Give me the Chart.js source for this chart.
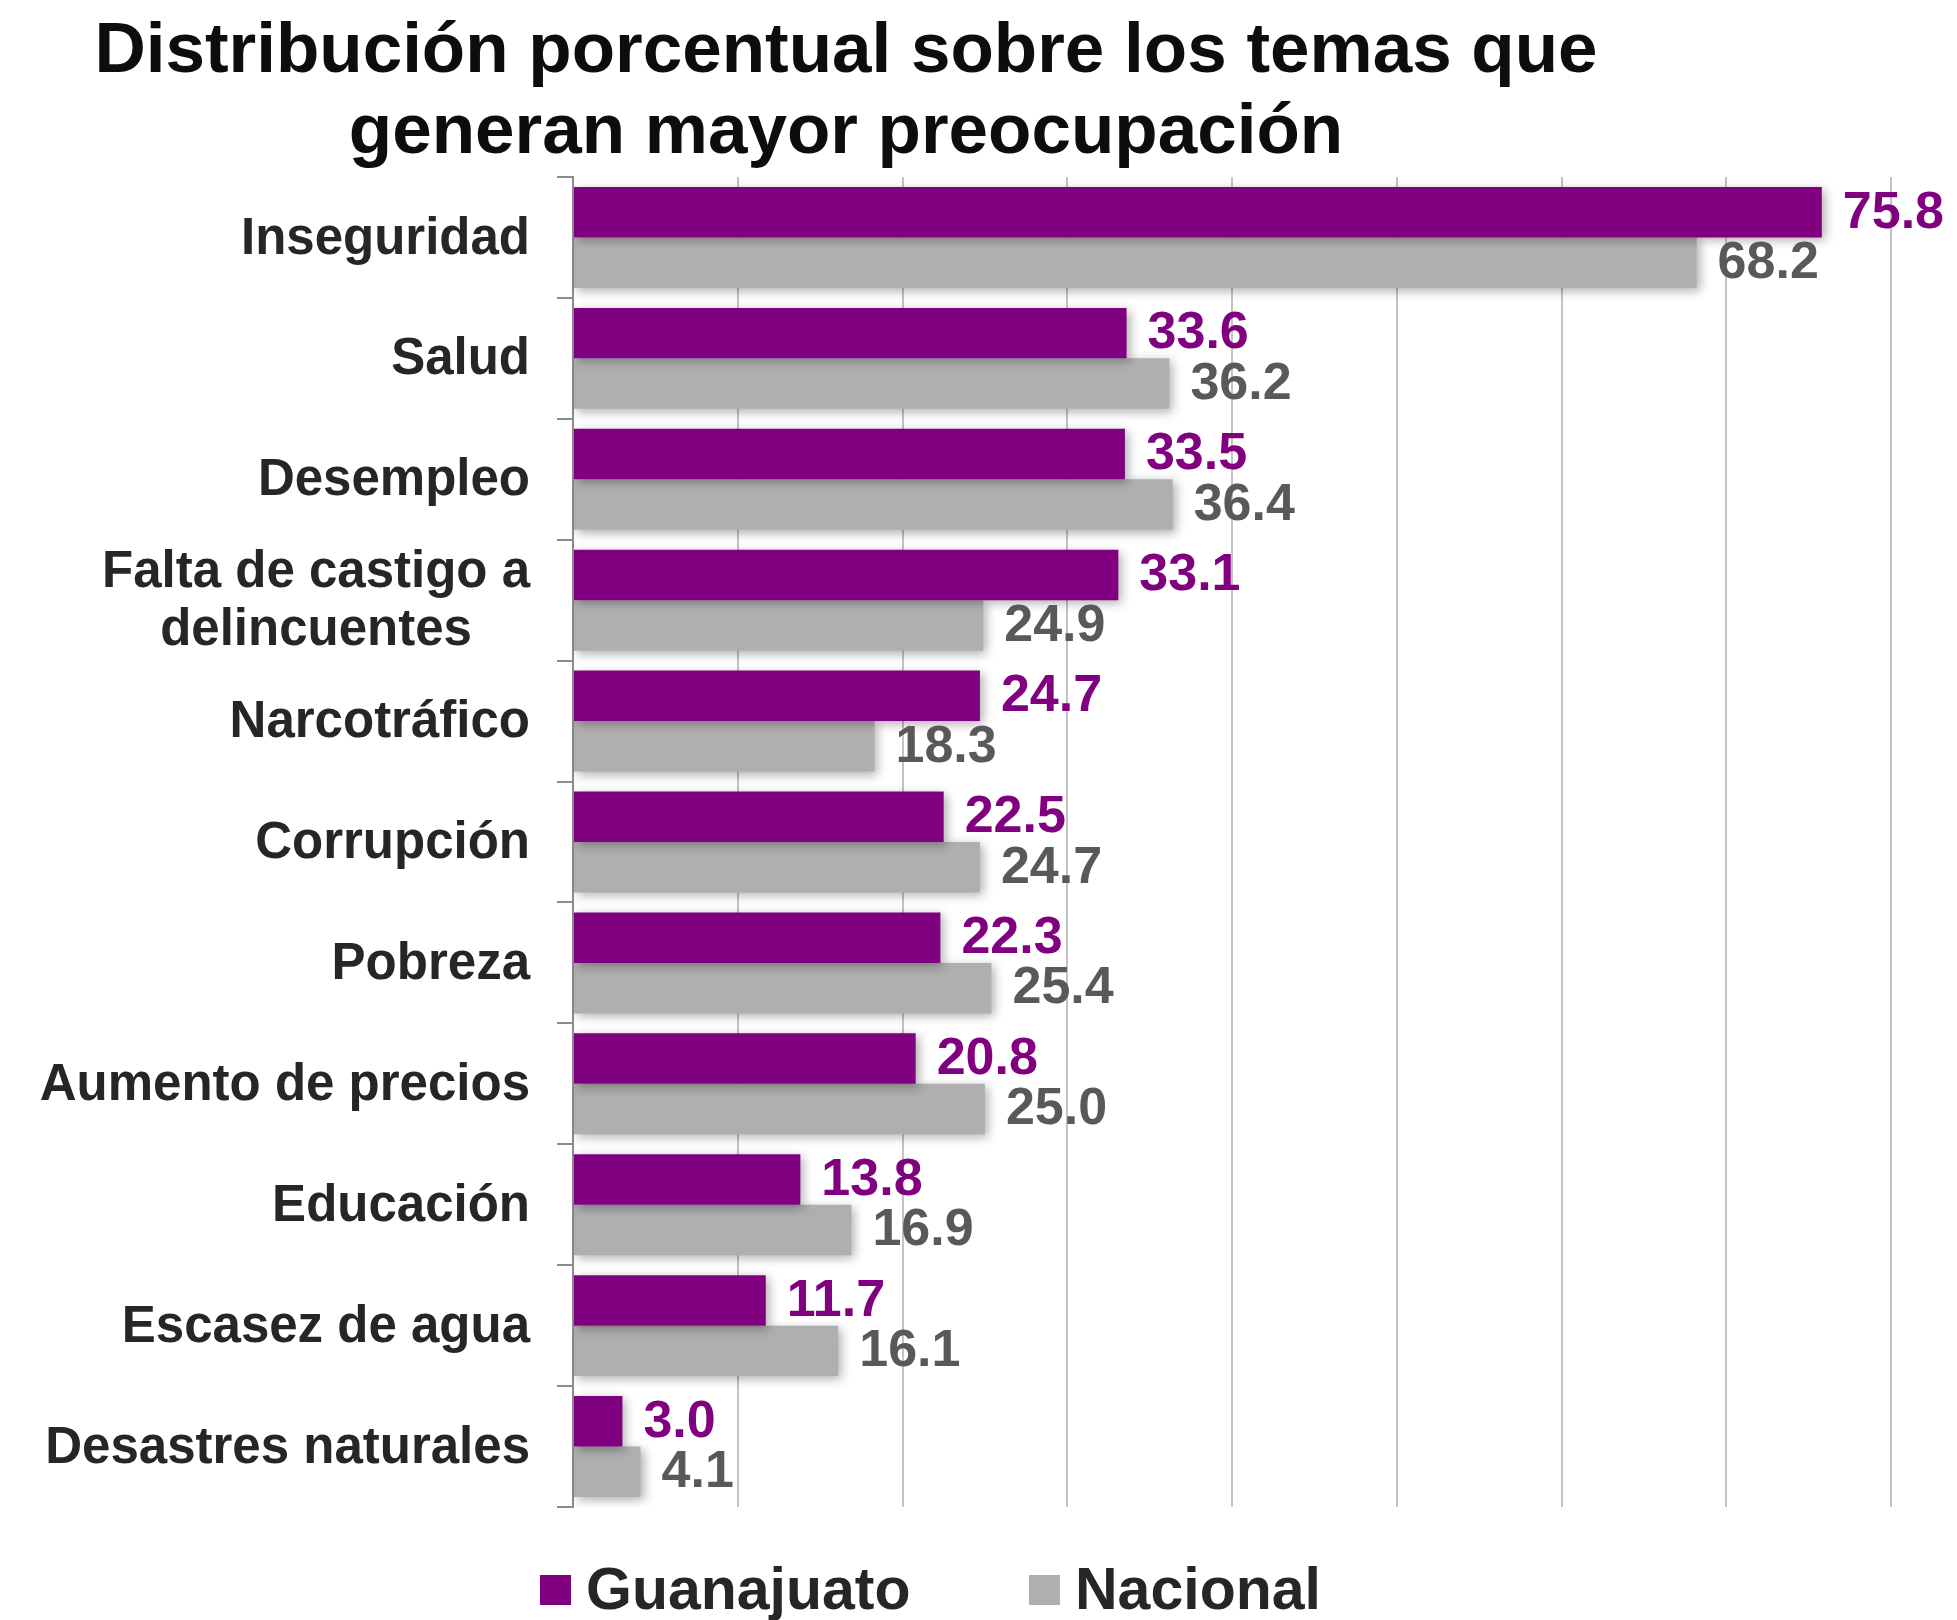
<!DOCTYPE html>
<html lang="es">
<head>
<meta charset="utf-8">
<title>Distribución porcentual sobre los temas que generan mayor preocupación</title>
<script src="https://cdn.jsdelivr.net/npm/chart.js@4.4.1/dist/chart.umd.min.js"></script>
<style>
  html, body { margin: 0; padding: 0; background: #ffffff; }
  #wrap { position: relative; width: 1957px; height: 1620px; }
</style>
</head>
<body>
<div id="wrap"><canvas id="chart"></canvas></div>
<script>
// Données du graphique
const categories = [
  'Inseguridad', 'Salud', 'Desempleo', ['Falta de castigo a', 'delincuentes'],
  'Narcotráfico', 'Corrupción', 'Pobreza', 'Aumento de precios',
  'Educación', 'Escasez de agua', 'Desastres naturales'
];
const guanajuato = [75.8, 33.6, 33.5, 33.1, 24.7, 22.5, 22.3, 20.8, 13.8, 11.7, 3.0];
const nacional = [68.2, 36.2, 36.4, 24.9, 18.3, 24.7, 25.4, 25.0, 16.9, 16.1, 4.1];
const seriesNames = ['Guanajuato', 'Nacional'];
const titleLines = ['Distribución porcentual sobre los temas que', 'generan mayor preocupación'];

const FONT = "'Liberation Sans', Arial, sans-serif";
const PURPLE = '#800080';
const GRAY = '#AFAFAF';

// Ombre portée sous les barres
const shadowPlugin = {
  id: 'barShadow',
  beforeDatasetsDraw(chart) {
    const ctx = chart.ctx;
    ctx.save();
    ctx.shadowColor = 'rgba(0,0,0,0.32)';
    ctx.shadowBlur = 10;
    ctx.shadowOffsetX = 3;
    ctx.shadowOffsetY = 3;
  },
  afterDatasetsDraw(chart) {
    chart.ctx.restore();
  }
};

// Étiquettes de valeurs, catégories, titre et légende
const textPlugin = {
  id: 'texts',
  afterDatasetsDraw(chart) {
    const ctx = chart.ctx;
    const labelColors = [PURPLE, '#595959'];
    ctx.save();
    ctx.font = 'bold 52px ' + FONT;
    ctx.textAlign = 'left';
    ctx.textBaseline = 'middle';
    chart.data.datasets.forEach((ds, i) => {
      const meta = chart.getDatasetMeta(i);
      ctx.fillStyle = labelColors[i];
      meta.data.forEach((bar, j) => {
        ctx.fillText(ds.data[j].toFixed(1), bar.x + 21, bar.y + 1);
      });
    });
    ctx.restore();
  },
  afterDraw(chart) {
    const ctx = chart.ctx;
    const yScale = chart.scales.y;
    ctx.save();

    // Libellés des catégories
    ctx.font = 'bold 51px ' + FONT;
    ctx.fillStyle = '#262626';
    ctx.textBaseline = 'middle';
    const rightEdge = 530;
    const lineH = 58;
    categories.forEach((cat, i) => {
      const lines = Array.isArray(cat) ? cat : [cat];
      const yc = yScale.getPixelForValue(i) + 2;
      const w = Math.max(...lines.map(l => ctx.measureText(l).width));
      ctx.textAlign = 'center';
      lines.forEach((l, k) => {
        const y = yc + (k - (lines.length - 1) / 2) * lineH;
        ctx.fillText(l, rightEdge - w / 2, y);
      });
    });

    // Titre
    ctx.font = 'bold 71px ' + FONT;
    ctx.fillStyle = '#0d0d0d';
    ctx.textAlign = 'center';
    ctx.textBaseline = 'alphabetic';
    ctx.fillText(titleLines[0], 846, 72);
    ctx.fillText(titleLines[1], 846, 153);

    // Légende
    ctx.font = 'bold 59px ' + FONT;
    ctx.textAlign = 'left';
    const legendX = [540, 1029];
    chart.data.datasets.forEach((ds, i) => {
      ctx.fillStyle = ds.backgroundColor;
      ctx.fillRect(legendX[i], 1575, 31, 30);
      ctx.fillStyle = '#262626';
      ctx.fillText(ds.label, legendX[i] + 46, 1609);
    });
    ctx.restore();
  }
};

const ctx = document.getElementById('chart').getContext('2d');
const chart = new Chart(ctx, {
  type: 'bar',
  data: {
    labels: categories,
    datasets: [
      { label: seriesNames[0], data: guanajuato, backgroundColor: PURPLE },
      { label: seriesNames[1], data: nacional, backgroundColor: GRAY }
    ]
  },
  options: {
    indexAxis: 'y',
    responsive: true,
    maintainAspectRatio: false,
    animation: false,
    categoryPercentage: 0.835,
    barPercentage: 1.0,
    layout: { padding: { top: 177, bottom: 113, left: 0, right: 66 } },
    plugins: {
      legend: { display: false },
      title: { display: false },
      tooltip: { enabled: false }
    },
    scales: {
      x: {
        min: 0,
        max: 80,
        ticks: { display: false, stepSize: 10 },
        grid: { color: '#C4C4C4', lineWidth: 2, drawTicks: false },
        border: { display: false },
        afterFit(scale) { scale.height = 0; }
      },
      y: {
        ticks: { display: false },
        grid: { drawOnChartArea: false, drawTicks: true, tickLength: 16, color: '#8C8C8C', lineWidth: 2 },
        border: { display: true, color: '#8C8C8C', width: 2 },
        afterFit(scale) { scale.width = 573; }
      }
    }
  },
  plugins: [shadowPlugin, textPlugin]
});
</script>
</body>
</html>
